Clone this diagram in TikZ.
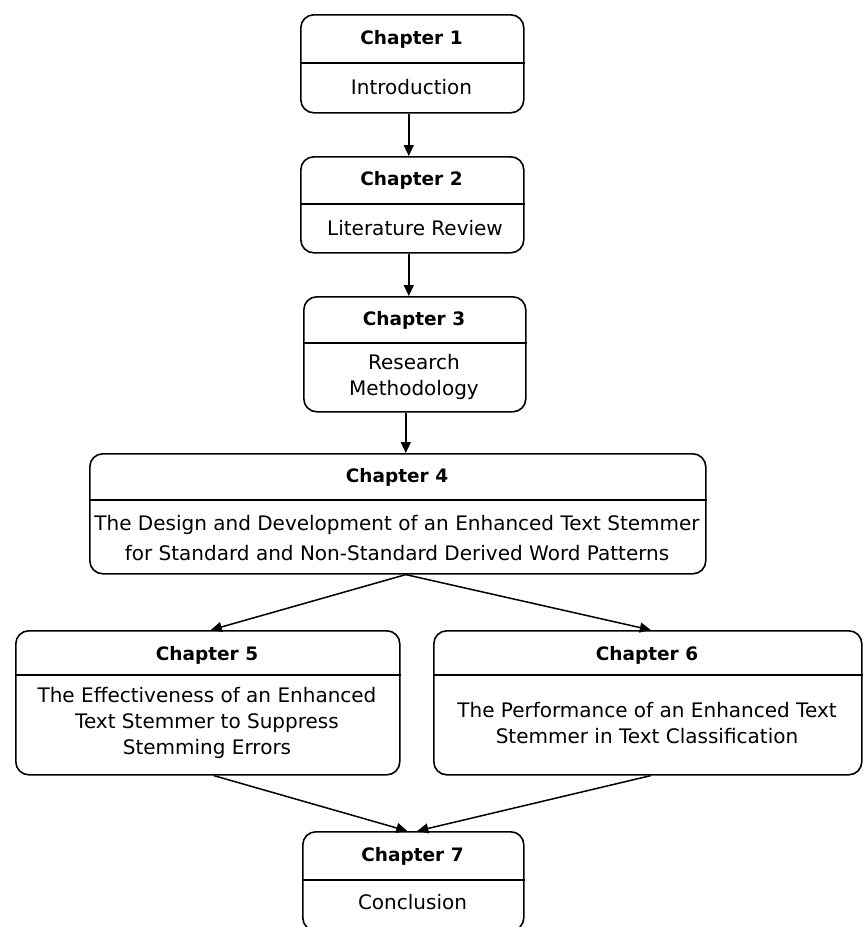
\documentclass[tikz,border=0pt]{standalone}
\usepackage{fontspec}
\setmainfont{DejaVu Sans}
\usetikzlibrary{arrows.meta}
\tikzset{
  box/.style={draw, line width=1.6pt, rounded corners=13pt, inner sep=0pt, anchor=north west},
  divider/.style={line width=1.6pt},
  title/.style={font=\fontsize{18.5}{24}\selectfont\bfseries, inner sep=0pt},
  body/.style={font=\fontsize{20}{26}\selectfont, align=center, inner sep=0pt},
  arr/.style={line width=1.5pt, -{Triangle[length=11pt,width=10pt]}}
}
\begin{document}
\begin{tikzpicture}[x=1pt,y=-1pt]
\useasboundingbox (0,0) rectangle (863,927);
% boxes
\node[box, minimum width=223pt, minimum height=98pt] (c1) at (300,14) {};
\node[box, minimum width=223pt, minimum height=96pt] (c2) at (300,156) {};
\node[box, minimum width=222pt, minimum height=115pt] (c3) at (303,296) {};
\node[box, minimum width=616pt, minimum height=120pt] (c4) at (89,453) {};
\node[box, minimum width=384pt, minimum height=144pt] (c5) at (15,630) {};
\node[box, minimum width=428pt, minimum height=144pt] (c6) at (433,630) {};
\node[box, minimum width=221pt, minimum height=99pt] (c7) at (302,831) {};
% dividers
\draw[divider] ([yshift=-49pt]c1.north west) -- ([yshift=-49pt]c1.north east);
\draw[divider] ([yshift=-48pt]c2.north west) -- ([yshift=-48pt]c2.north east);
\draw[divider] ([yshift=-47pt]c3.north west) -- ([yshift=-47pt]c3.north east);
\draw[divider] ([yshift=-47pt]c4.north west) -- ([yshift=-47pt]c4.north east);
\draw[divider] ([yshift=-45pt]c5.north west) -- ([yshift=-45pt]c5.north east);
\draw[divider] ([yshift=-45pt]c6.north west) -- ([yshift=-45pt]c6.north east);
\draw[divider] ([yshift=-49pt]c7.north west) -- ([yshift=-49pt]c7.north east);
% titles
\node[title] (t1) at (411.5,39) {Chapter 1};
\node[title] (t2) at (411.5,180) {Chapter 2};
\node[title] (t3) at (414,320) {Chapter 3};
\node[title] (t4) at (397,477) {Chapter 4};
\node[title] (t5) at (207,655) {Chapter 5};
\node[title] (t6) at (647,655) {Chapter 6};
\node[title] (t7) at (412.5,856) {Chapter 7};
% bodies
\node[body] (b1) at (411.5,87) {Introduction};
\node[body] (b2) at (415,228) {Literature Review};
\node[body] (b3) at (414,377) {Research\\Methodology};
\node[body, font=\fontsize{20}{30}\selectfont] (b4) at (397,538) {The Design and Development of an Enhanced Text Stemmer\\for Standard and Non-Standard Derived Word Patterns};
\node[body] (b5) at (207,723) {The Effectiveness of an Enhanced\\Text Stemmer to Suppress\\Stemming Errors};
\node[body] (b6) at (647,723) {The Performance of an Enhanced Text\\Stemmer in Text Classification};
\node[body] (b7) at (412.5,902) {Conclusion};
% arrows
\draw[arr] ([xshift=-3.5pt]c1.south) -- ([xshift=-3.5pt]c1.south |- c2.north);
\draw[arr] ([xshift=-3.5pt]c2.south) -- ([xshift=-3.5pt]c2.south |- c3.north);
\draw[arr] ([xshift=-9pt]c3.south) -- ([xshift=-9pt]c3.south |- c4.north);
\draw[arr] ([xshift=8pt]c4.south) -- ([xshift=3pt]c5.north);
\draw[arr] ([xshift=8pt]c4.south) -- ([xshift=3pt]c6.north);
\draw[arr] ([xshift=6pt]c5.south) -- ([xshift=-6pt]c7.north);
\draw[arr] ([xshift=3pt]c6.south) -- ([xshift=4pt]c7.north);
\end{tikzpicture}
\end{document}
